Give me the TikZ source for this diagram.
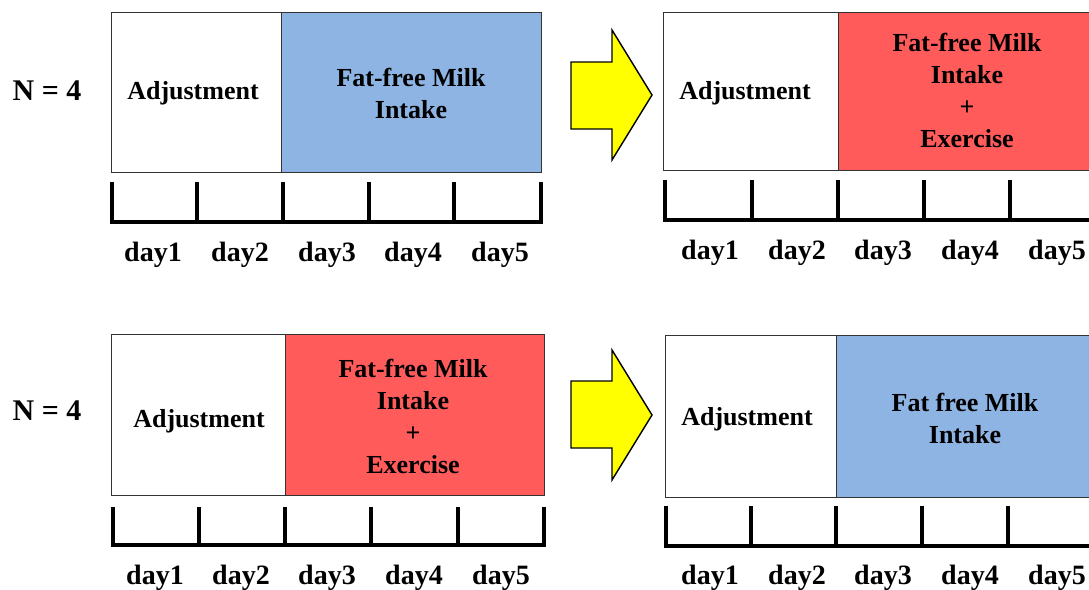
\documentclass[tikz,border=0pt]{standalone}
\usepackage{fontspec}
\setmainfont{Liberation Serif}
\definecolor{milkblue}{HTML}{8EB4E3}
\definecolor{exred}{HTML}{FF5B5B}
\definecolor{arrowyellow}{HTML}{FFFF00}
\begin{document}
\begin{tikzpicture}[x=1pt,y=-1pt,
  boxtext/.style={font=\fontsize{26}{32}\selectfont\bfseries, align=center},
  panel/.style={draw=black!80, line width=0.9pt, inner sep=0pt, anchor=north west},
  daylab/.style={font=\fontsize{28}{30}\selectfont\bfseries},
  nlab/.style={font=\fontsize{30}{32}\selectfont\bfseries},
  timeline/.style={line width=3.6pt, line join=miter},
  bigarrow/.style={draw=black, line width=1.4pt, fill=arrowyellow, line join=miter}]
\useasboundingbox (0,0) rectangle (1089,589);
\clip (0,0) rectangle (1089,589);

% ---------- labels N = 4
\node[nlab] (n1) at (47,91) {N = 4};
\node[nlab] (n2) at (47,411) {N = 4};

% ---------- top left
\node[panel, minimum width=170pt, minimum height=160pt, fill=white] (tla) at (111,12) {};
\node[panel, minimum width=260pt, minimum height=160pt, fill=milkblue] (tlb) at (281,12) {};
\node[boxtext] (tlat) at (193,93) {Adjustment};
\node[boxtext] (tlbt) at (411,93) {Fat-free Milk\\Intake};
\draw[timeline] (112,182) -- (112,222) -- (541,222) -- (541,182);
\foreach \x in {197,283,369,454} \draw[timeline] (\x,182) -- (\x,222);
\foreach \x/\d in {153/1,240/2,327/3,413/4,500/5}
  \node[daylab] (tld\d) at (\x,255) {day\d};

% ---------- top arrow
\draw[bigarrow] (571,62) -- (612,62) -- (612,30) -- (652,95) -- (612,160) -- (612,129) -- (571,129) -- cycle;

% ---------- top right
\node[panel, minimum width=175pt, minimum height=158pt, fill=white] (tra) at (663,12) {};
\node[panel, minimum width=260pt, minimum height=158pt, fill=exred] (trb) at (838,12) {};
\node[boxtext] (trat) at (745,93) {Adjustment};
\node[boxtext] (trbt) at (967,90) {Fat-free Milk\\Intake\\+\\Exercise};
\draw[timeline] (665,180) -- (665,220) -- (1096,220) -- (1096,180);
\foreach \x in {752,838,924,1010} \draw[timeline] (\x,180) -- (\x,220);
\foreach \x/\d in {710/1,797/2,883/3,970/4,1057/5}
  \node[daylab] (trd\d) at (\x,253) {day\d};

% ---------- bottom left
\node[panel, minimum width=174pt, minimum height=161pt, fill=white] (bla) at (111,334) {};
\node[panel, minimum width=259pt, minimum height=161pt, fill=exred] (blb) at (285,334) {};
\node[boxtext] (blat) at (199,421) {Adjustment};
\node[boxtext] (blbt) at (413,416) {Fat-free Milk\\Intake\\+\\Exercise};
\draw[timeline] (113,507) -- (113,545) -- (544,545) -- (544,507);
\foreach \x in {199,285,371,458} \draw[timeline] (\x,507) -- (\x,545);
\foreach \x/\d in {155/1,241/2,327/3,414/4,501/5}
  \node[daylab] (bld\d) at (\x,578) {day\d};

% ---------- bottom arrow
\draw[bigarrow] (571,381) -- (612,381) -- (612,350) -- (652,415) -- (612,480) -- (612,448) -- (571,448) -- cycle;

% ---------- bottom right
\node[panel, minimum width=171pt, minimum height=162pt, fill=white] (bra) at (665,335) {};
\node[panel, minimum width=260pt, minimum height=162pt, fill=milkblue] (brb) at (836,335) {};
\node[boxtext] (brat) at (747,419) {Adjustment};
\node[boxtext] (brbt) at (965,418) {Fat free Milk\\Intake};
\draw[timeline] (666,506) -- (666,546) -- (1096,546) -- (1096,506);
\foreach \x in {751,836,922,1008} \draw[timeline] (\x,506) -- (\x,546);
\foreach \x/\d in {710/1,797/2,883/3,970/4,1057/5}
  \node[daylab] (brd\d) at (\x,578) {day\d};
\end{tikzpicture}
\end{document}
